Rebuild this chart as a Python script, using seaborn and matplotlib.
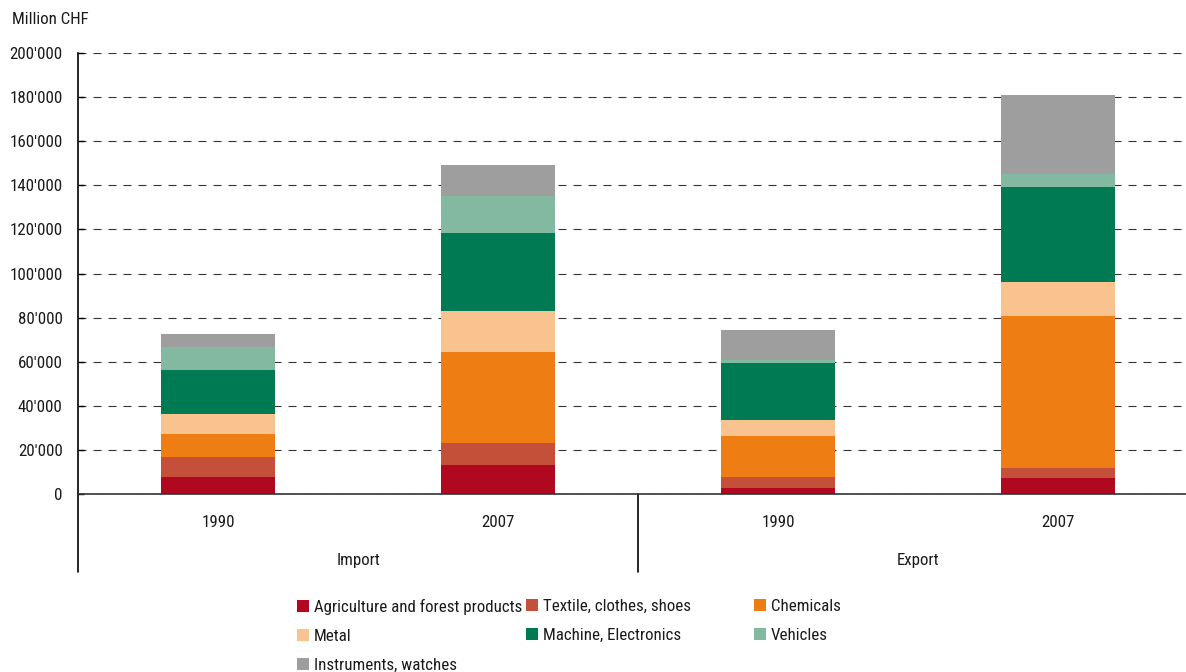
import matplotlib
matplotlib.use("Agg")
import matplotlib.pyplot as plt
from matplotlib import font_manager
from matplotlib.patches import Patch
from matplotlib.ticker import FuncFormatter
import numpy as np
import pandas as pd
import seaborn as sns

# Swiss foreign trade by product group, million CHF
groups = ["Import", "Import", "Export", "Export"]
years = ["1990", "2007", "1990", "2007"]
categories = [
    "Agriculture and forest products",
    "Textile, clothes, shoes",
    "Chemicals",
    "Metal",
    "Machine, Electronics",
    "Vehicles",
    "Instruments, watches",
]
agriculture = [7700, 13200, 2700, 7300]
textile = [9100, 9900, 5000, 4500]
chemicals = [10400, 41300, 18600, 68900]
metal = [9100, 18600, 7300, 15400]
machine = [19900, 35400, 25700, 43100]
vehicles = [10500, 16700, 1500, 5900]
instruments = [5900, 14100, 13600, 35900]

colors = ["#B0081E", "#C4503A", "#EE7D13", "#F8C38E", "#007A52", "#83B9A0", "#9E9E9E"]

series = [agriculture, textile, chemicals, metal, machine, vehicles, instruments]
bars = [f"{g} {y}" for g, y in zip(groups, years)]

rows = []
for cat, vals in zip(categories, series):
    for b, v in zip(bars, vals):
        rows.append({"bar": b, "category": cat, "value": v})
df = pd.DataFrame(rows)
df["cum"] = df.groupby("bar")["value"].cumsum()

# prefer a narrow sans face; otherwise a regular one at a smaller size
installed = {f.name for f in font_manager.fontManager.ttflist}
family, fs = "Liberation Sans", 10.8
for name, size in [("Liberation Sans Narrow", 13), ("Roboto Condensed", 12.2),
                   ("Arial Narrow", 13)]:
    if name in installed:
        family, fs = name, size
        break

sns.set_theme(style="white")
plt.rcParams["font.family"] = [family, "DejaVu Sans"]
plt.rcParams["font.size"] = fs
text_color = "#1a1a1a"

fig = plt.figure(figsize=(11.86, 6.72), dpi=100)
ax = fig.add_axes([78 / 1186, 1 - 494 / 672, 1 - 78 / 1186, 441 / 672])

# stacked bars: draw cumulative totals from the top layer down
for cat, col in reversed(list(zip(categories, colors))):
    sub = df[df["category"] == cat]
    sns.barplot(data=sub, x="bar", y="cum", order=bars, color=col,
                saturation=1, width=0.404, errorbar=None, ax=ax, zorder=3,
                linewidth=0, edgecolor="none")

ax.set_xlim(-0.5, 3.5 - 12 / 280)
ax.set_ylim(0, 200000)
ax.set_yticks(np.arange(0, 200001, 20000))
ax.yaxis.set_major_formatter(FuncFormatter(lambda v, p: f"{int(v):,}".replace(",", "'")))
ax.tick_params(axis="y", which="both", left=True, direction="in", length=4, width=1,
               color="black", labelsize=fs, pad=11, labelcolor=text_color)
ax.grid(axis="y", color="#333333", linestyle=(0, (7.2, 6.3)), linewidth=0.8, zorder=0)
ax.grid(axis="x", visible=False)
ax.set_xlabel("")
ax.set_ylabel("")
ax.set_xticks([])

for s in ["top", "right"]:
    ax.spines[s].set_visible(False)
ax.spines["left"].set_color("black")
ax.spines["left"].set_linewidth(1.2)
ax.spines["bottom"].set_color("#333333")
ax.spines["bottom"].set_linewidth(1.2)
ax.spines["bottom"].set_zorder(4)

# two-level category axis
trans = ax.get_xaxis_transform()
for i, y in enumerate(years):
    ax.text(i, -0.0635, y, transform=trans, ha="center", va="center",
            fontsize=fs, color=text_color)
for x, g in [(0.5, "Import"), (2.5, "Export")]:
    ax.text(x, -0.150, g, transform=trans, ha="center", va="center",
            fontsize=fs, color=text_color)
for x in [-0.5, 1.5]:
    ax.plot([x, x], [0, -0.177], transform=trans, color="black", lw=1.2, clip_on=False)

fig.text(12 / 1186, 1 - 20 / 672, "Million CHF", ha="left", va="center",
         fontsize=fs, color=text_color)

# legend laid out in three fixed columns
handles = [Patch(facecolor=c, edgecolor="none") for c in colors]
columns = [[0, 3, 6], [1, 4], [2, 5]]
col_x = [297, 526, 754]
em = fs * 100 / 72
for idx, cx in zip(columns, col_x):
    fig.legend([handles[i] for i in idx], [categories[i] for i in idx],
               loc="upper left", bbox_to_anchor=(cx / 1186, 1 - 599 / 672),
               frameon=False, ncol=1, fontsize=fs, handlelength=12 / em,
               handleheight=12 / em, handletextpad=0.3,
               labelspacing=29 / em - 0.9, borderpad=0, borderaxespad=0,
               labelcolor=text_color)

fig.savefig("out.png", dpi=100)
